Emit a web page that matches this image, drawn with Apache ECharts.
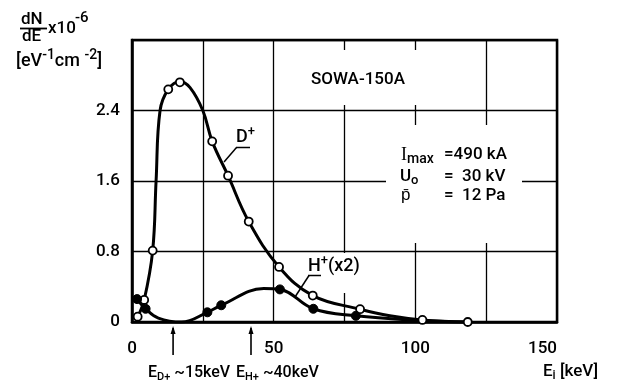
<!DOCTYPE html>
<html><head><meta charset="utf-8">
<script src="https://cdn.jsdelivr.net/npm/echarts@6/dist/echarts.min.js"></script>
<style>html,body{margin:0;padding:0;background:#fff}#c{width:632px;height:386px}</style>
</head><body><div id="c"></div>
<script>
// ---- data ----
const xTicks = [0, 50, 100, 150];
const yTicks = [0, 0.8, 1.6, 2.4];
// measured points (open circles, D+)
const dPoints = [[2.0,0.06],[4.3,0.25],[7.3,0.81],[12.8,2.64],[16.9,2.72],[28.3,2.05],[33.9,1.66],[41.2,1.14],[51.9,0.625],[63.8,0.30],[80.5,0.145],[102.5,0.023],[118.5,0.0]];
// measured points (filled circles, H+ x2)
const hPoints = [[1.8,0.26],[4.8,0.15],[26.6,0.11],[31.5,0.19],[52.2,0.37],[64.0,0.15],[79.0,0.07]];
// fitted curves
const dCurve = [[2.0,0.06],[4.3,0.25],[7.3,0.81],[8.5,1.6],[9.9,2.4],[12.8,2.64],[16.9,2.73],[20.5,2.66],[25.0,2.4],[28.3,2.05],[33.9,1.66],[41.2,1.14],[51.9,0.625],[63.8,0.30],[80.5,0.145],[91.0,0.07],[102.5,0.023],[118.5,0.0]];
const hCurve = [[1.8,0.26],[4.8,0.15],[9.3,0.045],[17.5,0.0],[26.6,0.11],[31.5,0.19],[46.5,0.38],[52.2,0.37],[64.0,0.15],[79.0,0.07],[100.0,0.02],[118.0,0.0]];
const arrowsE = [14.5, 42.0];

const FONT = "Roboto,'Liberation Sans',Arial,sans-serif";
const FW = 500;
const chart = echarts.init(document.getElementById('c'), null, {renderer:'canvas'});
const near = (v, arr) => arr.some(t => Math.abs(t - v) < 1e-6);

chart.setOption({
  animation: false,
  backgroundColor: '#fff',
  grid: {left: 132, right: 75, top: 40, bottom: 64, show: true, borderColor: '#000', borderWidth: 2.5, backgroundColor: 'transparent'},
  xAxis: {
    type: 'value', min: 0, max: 150, interval: 25,
    axisLine: {show: true, lineStyle: {color: '#000', width: 2.5}},
    axisTick: {show: false},
    splitLine: {show: true, lineStyle: {color: '#000', width: 1.3}},
    axisLabel: {margin: 18, color: '#000', fontSize: 17, fontWeight: FW, fontFamily: FONT, alignMaxLabel: 'right',
      formatter: v => near(v, xTicks) ? String(v) : ''}
  },
  yAxis: {
    type: 'value', min: 0, max: 3.2, interval: 0.8,
    axisLine: {show: true, lineStyle: {color: '#000', width: 2.5}},
    axisTick: {show: false},
    splitLine: {show: true, lineStyle: {color: '#000', width: 1.3}},
    axisLabel: {margin: 12, color: '#000', fontSize: 17, fontWeight: FW, fontFamily: FONT, padding: [0,0,10,0],
      formatter: v => near(v, yTicks) ? (v === 0 ? '0' : v.toFixed(1)) : ''}
  },
  series: [
    {type: 'line', data: dCurve, smooth: 0.4, showSymbol: false, symbol: 'none', lineStyle: {color: '#000', width: 3}, z: 3},
    {type: 'line', data: hCurve, smooth: 0.4, showSymbol: false, symbol: 'none', lineStyle: {color: '#000', width: 3}, z: 3},
    {type: 'scatter', data: dPoints, symbol: 'circle', symbolSize: 8, itemStyle: {color: '#fff', opacity: 1, borderColor: '#000', borderWidth: 1.8}, z: 5},
    {type: 'scatter', data: hPoints, symbol: 'circle', symbolSize: 9, itemStyle: {color: '#000', opacity: 1, borderColor: '#000', borderWidth: 1}, z: 5}
  ]
});

const px = (x, y) => chart.convertToPixel({gridIndex: 0}, [x, y]);
const g = [];
const txt = (x, y, text, opt) => g.push(Object.assign({type: 'text', x, y, z: 10, style: Object.assign({text, fill: '#000', fontSize: 17, fontWeight: FW, fontFamily: FONT, align: 'left', verticalAlign: 'middle'}, opt || {})}));
const line = (pts, w) => g.push({type: 'polyline', z: 10, shape: {points: pts}, style: {stroke: '#000', lineWidth: w || 1.5, fill: null}});
const block = (x, y, w, h) => g.push({type: 'rect', z: 1, shape: {x, y, width: w, height: h}, style: {fill: '#fff'}});
const sub = (fs, pad) => ({fontSize: fs, fontWeight: FW, fontFamily: FONT, padding: pad});

// white areas that interrupt grid lines around the annotations
block(300, 50, 125, 55);
block(386, 125, 136, 118);
block(300, 253, 70, 40);

// y-axis title
txt(21, 20, 'dN', {fontSize: 17});
line([[20, 28.5], [47, 28.5]], 1.8);
txt(22, 37, 'dE', {fontSize: 17});
txt(48, 29, 'x10', {fontSize: 17});
txt(75, 18, '-6', {fontSize: 15});
txt(16, 61, '[eV{s|-1}cm {s|-2}]', {fontSize: 18, rich: {s: sub(14, [0,0,12,0])}});

// chart annotations
txt(311, 80, 'SOWA-150A', {fontSize: 17});
txt(236, 137, 'D{s|+}', {fontSize: 18, rich: {s: sub(13, [0,0,10,0])}});
line([[236, 147.5], [250, 147.5]], 1.5);
line([[236.5, 147.5], [224, 162]], 1.5);
txt(308, 266, 'H{s|+}(x2)', {fontSize: 18, rich: {s: sub(13, [0,0,10,0])}});
line([[308, 275.5], [321, 275.5]], 1.5);
line([[309, 275.5], [295, 297]], 1.5);

txt(401, 155, 'I{b|max}', {fontSize: 18, fontFamily: "'Liberation Serif','DejaVu Serif',serif", rich: {b: sub(14, [8,0,0,0])}});
txt(444, 155, '=490 kA', {fontSize: 17});
txt(400, 177, 'U{b|o}', {fontSize: 17, rich: {b: sub(13, [8,0,0,0])}});
txt(444, 177, '=  30 kV', {fontSize: 17});
txt(401, 196, 'p\u0304', {fontSize: 17});
txt(444, 196, '=  12 Pa', {fontSize: 17});

// arrows marking the mean energies
arrowsE.forEach(e => {
  const p = px(e, 0)[0];
  line([[p, 355], [p, 328]], 1.6);
  g.push({type: 'polygon', z: 10, shape: {points: [[p - 2.5, 334], [p, 326], [p + 2.5, 334]]}, style: {fill: '#000'}});
});
txt(148, 373, 'E{b|D+} ~15keV', {fontSize: 16, rich: {b: sub(11, [8,0,0,0])}});
txt(236, 373, 'E{b|H+} ~40keV', {fontSize: 16, rich: {b: sub(11, [8,0,0,0])}});
txt(543, 372, 'E{b|i} [keV]', {fontSize: 17, rich: {b: sub(12, [8,0,0,0])}});

chart.setOption({graphic: {elements: g}});
</script></body></html>
